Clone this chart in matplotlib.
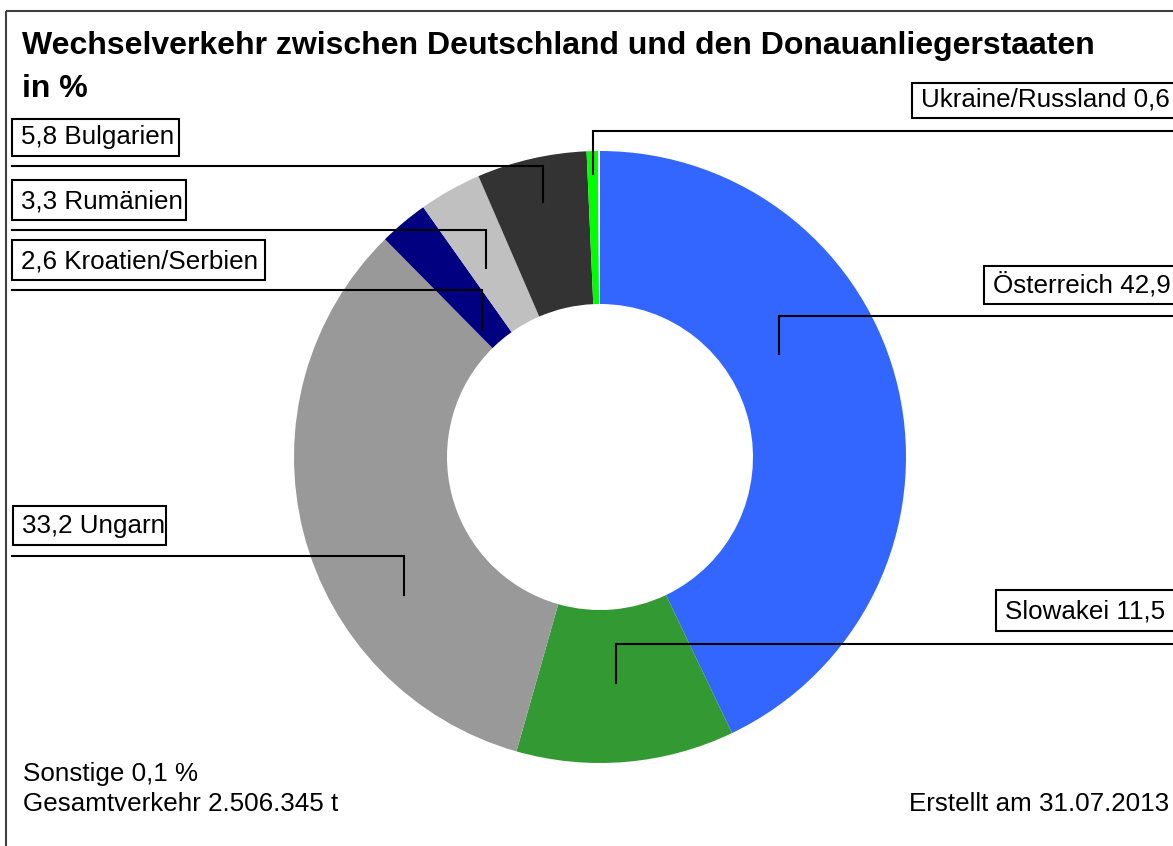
# Ringdiagramm: Wechselverkehr Deutschland - Donauanliegerstaaten

import matplotlib.pyplot as plt
from matplotlib.patches import Rectangle

# Daten (im Uhrzeigersinn ab 12 Uhr)
laender = ['Österreich', 'Slowakei', 'Ungarn', 'Kroatien/Serbien',
           'Rumänien', 'Bulgarien', 'Ukraine/Russland', 'Sonstige']
anteile = [42.9, 11.5, 33.2, 2.6, 3.3, 5.8, 0.6, 0.1]
farben = ['#3366FF', '#339933', '#999999', '#000080',
          '#C0C0C0', '#333333', '#00FF00', '#FFFFFF']

titel1 = 'Wechselverkehr zwischen Deutschland und den Donauanliegerstaaten'
titel2 = 'in %'
gesamt = '2.506.345 t'
datum = '31.07.2013'

W, H = 1173, 846
FONT = 'Liberation Sans'
FS = 18.7

fig = plt.figure(figsize=(W / 100, H / 100), dpi=100)
ax = fig.add_axes([0, 0, 1, 1])

# y-Achse nach unten (Pixel), daher startangle=-90 + counterclock=True = oben, im Uhrzeigersinn
ax.pie(anteile, colors=farben, startangle=-90, counterclock=True,
       center=(600, 457), radius=306, frame=True,
       wedgeprops=dict(width=153, linewidth=0))

ax.set_xlim(0, W)
ax.set_ylim(H, 0)
ax.axis('off')

def fmt(v):
    return f'{v:.1f}'.replace('.', ',')

# Beschriftungen: Box (x0, y0, x1, y1), Linie (y, Ende x, Ende y), Seite
layout = {
    'Ukraine/Russland': ((912, 83, 1200, 118), (131, 593, 174), 'r'),
    'Österreich': ((984, 266, 1200, 304), (316, 779, 354), 'r'),
    'Slowakei': ((996, 590, 1200, 631), (644, 616, 683), 'r'),
    'Bulgarien': ((12, 119, 179, 156), (166, 543, 202), 'l'),
    'Rumänien': ((12, 180, 186, 220), (230, 486, 268), 'l'),
    'Kroatien/Serbien': ((12, 240, 265, 280), (290, 482, 330), 'l'),
    'Ungarn': ((13, 506, 166, 545), (556, 404, 595), 'l'),
}

for name, wert in zip(laender, anteile):
    if name not in layout:
        continue
    (x0, y0, x1, y1), (ly, ax_, ay), seite = layout[name]
    ax.add_patch(Rectangle((x0, y0), x1 - x0, y1 - y0, facecolor='white',
                           edgecolor='black', linewidth=1.5, zorder=3))
    txt = f'{name} {fmt(wert)}' if seite == 'r' else f'{fmt(wert)} {name}'
    ax.text(x0 + 9, y1 - 12, txt, fontsize=FS, family=FONT,
            va='baseline', ha='left', zorder=4)
    rand = 1200 if seite == 'r' else 12
    ax.plot([rand, ax_, ax_], [ly, ly, ay], color='black', linewidth=1.5,
            solid_joinstyle='miter', zorder=5)

# Titel
ax.text(22, 54, titel1, fontsize=23, fontweight='bold', family=FONT,
        va='baseline', ha='left')
ax.text(22, 97, titel2, fontsize=23, fontweight='bold', family=FONT,
        va='baseline', ha='left')

# Fußzeile
ax.text(23, 781, f'Sonstige {fmt(anteile[-1])} %', fontsize=FS, family=FONT,
        va='baseline', ha='left')
ax.text(23, 811, f'Gesamtverkehr {gesamt}', fontsize=FS, family=FONT,
        va='baseline', ha='left')
ax.text(1169, 811, f'Erstellt am {datum}', fontsize=FS, family=FONT,
        va='baseline', ha='right')

# Rahmen
ax.add_patch(Rectangle((6, 11), 1300, 1000, fill=False, edgecolor='#404040',
                       linewidth=1.5, zorder=6))

plt.savefig('out.png', dpi=100)
